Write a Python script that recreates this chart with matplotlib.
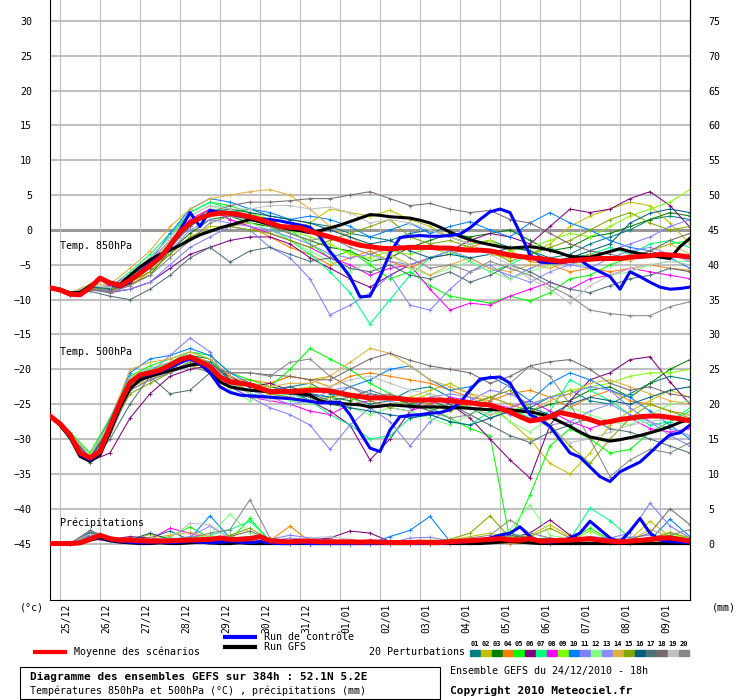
import matplotlib
matplotlib.use('Agg')
import matplotlib.pyplot as plt
from matplotlib.lines import Line2D
from matplotlib.patches import Rectangle
from matplotlib.transforms import ScaledTranslation
import numpy as np

W, H = 740, 700
MONO = 'DejaVu Sans Mono'
plt.rcParams['font.family'] = MONO

# time axes (hours after 24/12/2010 18h)
hours_6h = np.arange(0, 385, 6)
hours_12h = np.arange(0, 385, 12)
day_hours = [6 + 24 * i for i in range(16)]
day_labels = ['25/12', '26/12', '27/12', '28/12', '29/12', '30/12', '31/12', '01/01',
              '02/01', '03/01', '04/01', '05/01', '06/01', '07/01', '08/01', '09/01']

pert_colors = ['#008080', '#c0c000', '#008000', '#ff8000', '#00ff00', '#800080', '#00ff80',
               '#ff00ff', '#80ff00', '#0080ff', '#8080ff', '#80ff80', '#8c8cff', '#e0b040',
               '#80a800', '#006080', '#507078', '#786870', '#c0c0c0', '#888888']

# --- Temp 850 hPa (6h) ---
t850_mean = [-8.3, -8.6, -9.2, -9.3, -8.3, -6.9, -7.6, -8.0, -7.2, -6.2,
             -5.1, -4.0, -2.2, -0.3, 1.0, 1.7, 2.2, 2.4, 2.4, 2.2,
             1.9, 1.5, 1.0, 0.5, 0.4, 0.3, -0.2, -0.6, -1.0, -1.4,
             -1.8, -2.2, -2.4, -2.6, -2.7, -2.6, -2.5, -2.5, -2.5, -2.6,
             -2.6, -2.8, -2.9, -2.9, -3.0, -3.3, -3.6, -3.8, -4.0, -4.1,
             -4.3, -4.5, -4.4, -4.3, -4.2, -4.1, -4.1, -4.1, -3.9, -3.8,
             -3.7, -3.5, -3.6, -3.7, -3.9]
t850_ctrl = [-8.3, -8.7, -9.3, -9.4, -8.3, -7.0, -7.8, -8.2, -7.5, -6.0,
             -4.8, -3.8, -2.6, 0.0, 2.5, 0.5, 2.8, 2.5, 2.3, 2.0,
             1.8, 1.6, 1.5, 1.3, 1.0, 0.7, 0.4, -1.0, -3.1, -4.8,
             -6.7, -9.6, -9.5, -6.7, -3.3, -1.1, -0.9, -0.8, -0.9, -0.9,
             -0.8, -0.6, 0.3, 1.5, 2.6, 3.0, 2.5, -0.4, -3.6, -4.6,
             -4.7, -4.7, -4.5, -4.3, -5.3, -6.0, -6.7, -8.5, -6.0, -6.7,
             -7.5, -8.2, -8.5, -8.4, -8.2]
t850_gfs = [-8.3, -8.5, -9.0, -9.0, -8.0, -7.0, -7.5, -7.8, -6.5, -5.3,
            -4.3, -3.5, -2.9, -2.2, -1.4, -0.7, -0.2, 0.3, 0.7, 1.1,
            1.5, 1.2, 0.8, 0.4, 0.1, -0.1, -0.4, -0.1, 0.3, 0.7,
            1.2, 1.7, 2.2, 2.1, 1.9, 1.8, 1.7, 1.4, 1.0, 0.4,
            -0.3, -0.9, -1.4, -1.8, -2.1, -2.4, -2.6, -2.5, -2.4, -2.6,
            -2.9, -3.3, -3.8, -3.9, -3.9, -3.5, -3.1, -2.7, -3.1, -3.4,
            -3.6, -3.9, -4.1, -2.4, -1.2]

# --- Temp 850 hPa perturbations (12h) ---
t850_members = [
    [-8.3, -9.3, -8.0, -8.5, -7.0, -5.0, -2.5, 1.0, 3.0, 2.5, 3.0, 2.0, 1.5, 1.0, 0.5, -0.5, -1.0, -1.5, -0.5, 0.0, -1.0, -2.0, -1.5, -2.5, -3.0, -4.0, -3.5, -2.0, -1.0, 0.0, 1.5, 2.0, 1.5],
    [-8.3, -9.1, -8.2, -8.0, -7.5, -6.0, -3.5, -1.0, 0.5, 0.5, 1.0, 0.5, 0.0, 1.0, 3.0, 2.5, 2.0, 2.8, 1.5, 0.5, -1.0, -2.0, -3.5, -4.0, -3.5, -2.0, 0.5, 2.0, 3.0, 4.0, 3.5, 1.0, -2.0],
    [-8.3, -9.0, -8.4, -8.6, -7.8, -6.5, -3.0, -0.5, 1.5, 2.0, 1.0, 0.5, -0.5, -1.5, -2.5, -3.0, -4.5, -4.0, -2.5, -1.5, -0.5, -1.0, -0.5, 0.0, -1.5, -3.0, -2.5, -1.0, -0.5, 0.5, 1.5, 2.5, 2.0],
    [-8.3, -9.4, -8.0, -8.8, -8.0, -6.0, -2.0, 1.5, 3.0, 1.5, 0.5, -1.0, -2.5, -3.5, -5.0, -4.0, -3.0, -4.5, -5.5, -4.0, -3.5, -2.5, -1.5, -3.0, -4.5, -5.0, -6.0, -5.5, -6.0, -5.5, -5.0, -5.5, -5.8],
    [-8.3, -9.2, -8.1, -8.3, -6.5, -4.0, -1.0, 2.5, 4.0, 3.5, 2.5, 1.0, 0.0, -2.0, -4.0, -3.0, -5.0, -7.0, -6.0, -8.0, -9.5, -10.0, -10.5, -9.5, -10.2, -9.0, -7.0, -6.5, -5.0, -4.0, -3.0, -2.0, -1.5],
    [-8.3, -9.3, -8.5, -9.0, -8.5, -7.5, -5.5, -3.5, -2.5, -1.5, -1.0, -1.0, -2.0, -4.0, -5.5, -7.0, -8.2, -6.5, -5.0, -4.0, -3.0, -1.5, -0.5, -1.0, -2.0, 0.5, 3.0, 2.5, 3.0, 4.5, 5.5, 3.5, 0.4],
    [-8.3, -9.2, -8.0, -8.2, -6.0, -3.5, -0.5, 2.5, 4.0, 3.0, 1.5, 0.5, -1.5, -3.5, -6.0, -9.0, -13.5, -10.0, -6.5, -4.0, -3.0, -4.5, -6.0, -5.0, -3.5, -2.5, -4.0, -3.5, -2.5, -3.5, -2.0, -1.5, -2.5],
    [-8.3, -9.1, -8.3, -8.0, -6.5, -4.5, -1.5, 1.5, 3.0, 1.5, 0.5, -0.5, -1.5, -2.5, -4.0, -5.0, -6.5, -5.5, -5.0, -8.5, -11.5, -10.5, -10.8, -9.5, -8.5, -7.5, -8.5, -7.0, -6.5, -5.5, -6.0, -6.5, -7.0],
    [-8.3, -9.2, -8.2, -8.4, -7.0, -5.0, -2.0, 1.0, 2.5, 3.0, 2.5, 1.5, 0.0, -1.0, -2.0, -3.5, -4.0, -3.0, -3.5, -2.5, -3.5, -2.0, -1.5, -3.0, -2.5, -1.5, -0.5, -1.0, 0.5, 2.0, 3.0, 4.0, 5.8],
    [-8.3, -9.3, -8.1, -8.5, -6.8, -4.5, -0.5, 3.0, 4.5, 4.0, 3.0, 2.5, 1.5, 2.0, 1.5, 0.5, -1.0, 0.0, 1.0, -0.5, 0.5, 1.2, 0.0, -1.0, 1.0, 2.5, 1.0, 0.0, -1.5, -2.5, -3.0, -4.0, -5.5],
    [-8.3, -9.2, -8.6, -8.9, -8.5, -7.5, -5.0, -2.5, -1.0, 0.5, 0.0, -2.5, -4.0, -7.0, -12.2, -10.8, -9.0, -6.5, -10.8, -11.5, -8.5, -6.0, -5.0, -7.0, -5.5, -4.5, -5.0, -4.0, -3.0, -2.0, -1.0, 0.5, 1.5],
    [-8.3, -9.0, -8.2, -8.3, -6.8, -4.8, -1.5, 2.0, 3.5, 2.5, 1.0, 0.0, -1.5, -3.0, -4.5, -6.0, -4.5, -3.5, -5.5, -6.5, -5.5, -4.5, -6.0, -7.0, -6.0, -5.0, -4.5, -5.5, -6.5, -6.0, -5.0, -4.5, -4.5],
    [-8.3, -9.3, -8.4, -8.6, -7.2, -5.5, -3.0, 0.0, 1.5, 1.0, 0.5, 0.0, -1.0, -2.0, -3.5, -4.0, -3.5, -4.5, -5.0, -4.0, -3.0, -4.0, -5.5, -6.5, -7.5, -6.0, -5.0, -5.5, -4.0, -3.0, -2.5, -3.5, -4.5],
    [-8.3, -9.0, -7.8, -7.8, -5.5, -3.0, 0.5, 3.0, 4.5, 5.0, 5.5, 5.8, 5.0, 3.0, 0.5, -1.0, -2.5, -3.5, -5.0, -6.5, -5.0, -4.0, -5.5, -6.0, -5.0, -5.5, -4.5, -3.5, -4.0, -4.5, -3.0, -2.0, -3.5],
    [-8.3, -9.1, -8.3, -8.5, -7.5, -6.0, -3.5, -1.0, 0.0, 0.5, 0.0, -0.5, -1.5, -2.5, -1.5, -0.5, 0.5, 1.5, -1.0, -2.0, -1.5, -2.5, -3.0, -4.5, -3.5, -2.5, -1.5, 0.0, 1.5, 2.5, 1.0, 0.0, 0.5],
    [-8.3, -9.2, -8.2, -8.4, -7.0, -5.5, -2.5, 0.5, 2.5, 3.0, 2.5, 2.0, 1.5, 1.0, 0.0, -1.0, -2.0, -1.5, -3.0, -4.0, -3.5, -4.0, -3.5, -2.5, -3.0, -4.5, -4.0, -3.0, -2.0, 1.0, 2.4, 3.0, 2.5],
    [-8.3, -9.4, -8.8, -9.5, -10.0, -8.5, -6.5, -4.0, -2.5, -4.6, -3.0, -2.5, -3.5, -4.5, -4.0, -5.5, -6.0, -5.0, -6.5, -7.0, -6.0, -7.5, -6.5, -5.0, -6.0, -7.5, -8.5, -9.0, -8.0, -7.0, -6.5, -5.5, -6.0],
    [-8.3, -9.2, -8.5, -8.8, -7.5, -5.5, -2.5, 0.5, 2.5, 3.5, 4.0, 4.0, 4.2, 4.5, 4.5, 5.0, 5.5, 4.5, 3.5, 3.8, 3.0, 2.5, 2.8, 1.5, 1.0, -0.5, -2.0, -3.0, -3.5, -4.0, -3.0, -1.5, -0.5],
    [-8.3, -9.1, -8.0, -8.2, -6.5, -4.0, -1.0, 2.0, 3.5, 3.0, 3.0, 3.5, 3.5, 3.0, 3.3, 2.5, 1.0, 1.5, 1.0, 0.0, -1.0, -2.0, -3.5, -5.0, -7.0, -8.5, -10.5, -8.0, -6.5, -5.5, -5.0, -4.5, -5.0],
    [-8.3, -9.3, -8.6, -9.0, -8.0, -6.5, -4.0, -1.5, 1.0, 2.0, 1.5, 0.5, -0.5, -1.5, -1.0, -2.5, -3.5, -2.5, -4.0, -5.5, -5.0, -6.0, -4.5, -5.5, -6.5, -8.0, -9.5, -11.5, -12.0, -12.3, -12.3, -11.0, -10.3],
]

# --- Temp 500 hPa (6h) ---
t500_mean = [-26.7, -27.8, -29.4, -32.0, -32.7, -31.8, -28.2, -24.8, -21.9, -20.8,
             -20.5, -20.1, -19.4, -18.6, -18.2, -18.9, -19.6, -21.1, -21.8, -22.0,
             -22.2, -22.7, -23.2, -23.2, -23.2, -23.1, -23.0, -23.0, -23.1, -23.4,
             -23.7, -23.9, -24.1, -24.1, -24.1, -24.2, -24.4, -24.4, -24.4, -24.4,
             -24.5, -24.7, -24.8, -25.0, -25.1, -25.6, -26.1, -26.8, -27.4, -27.2,
             -26.8, -26.2, -26.5, -26.8, -27.2, -27.7, -27.5, -27.2, -27.0, -26.8,
             -26.7, -26.7, -26.9, -27.1, -27.4]
t500_ctrl = [-26.7, -27.9, -29.6, -32.2, -33.0, -32.0, -28.5, -25.0, -22.0, -21.0,
             -20.7, -20.3, -19.7, -19.0, -18.5, -19.2, -20.5, -22.5, -23.3, -23.7,
             -23.8, -23.9, -24.0, -24.1, -24.2, -24.4, -24.6, -24.8, -24.8, -24.7,
             -26.5, -29.0, -31.3, -31.8, -28.7, -26.8, -26.6, -26.5, -26.3, -26.2,
             -25.8, -24.8, -23.0, -21.4, -21.2, -21.1, -22.0, -24.4, -26.5, -27.2,
             -28.2, -30.1, -32.0, -32.6, -34.0, -35.4, -36.1, -34.7, -34.0, -33.3,
             -32.0, -30.6, -29.4, -29.1, -28.0]
t500_gfs = [-26.7, -28.0, -29.8, -32.5, -33.2, -32.3, -29.0, -25.5, -22.8, -21.5,
            -21.0, -20.6, -20.2, -19.8, -19.4, -19.2, -20.5, -21.8, -22.5, -22.8,
            -23.0, -23.1, -23.2, -23.2, -23.3, -23.5, -23.7, -24.5, -24.8, -24.9,
            -25.0, -25.1, -25.4, -25.3, -25.1, -25.2, -25.3, -25.4, -25.4, -25.4,
            -25.5, -25.5, -25.6, -25.7, -25.8, -25.8, -25.8, -26.0, -26.1, -26.4,
            -26.8, -27.5, -28.2, -29.0, -29.7, -30.0, -30.3, -30.1, -29.8, -29.5,
            -29.1, -28.7, -28.2, -27.6, -27.2]

# --- Temp 500 hPa perturbations (12h) ---
t500_members = [
    [-26.7, -29.5, -32.6, -28.5, -22.0, -20.5, -19.5, -18.0, -19.0, -21.0, -22.5, -23.0, -22.5, -22.0, -23.5, -24.0, -25.0, -24.5, -23.0, -22.5, -24.0, -25.5, -27.0, -26.0, -25.5, -24.0, -23.0, -24.5, -25.0, -23.5, -22.0, -21.0, -21.5],
    [-26.7, -29.3, -32.8, -28.0, -22.5, -21.5, -20.0, -19.5, -20.0, -22.0, -23.0, -22.0, -21.0, -21.5, -21.0, -22.5, -23.5, -24.5, -24.0, -23.0, -22.0, -23.5, -25.0, -27.5, -30.0, -33.5, -35.0, -32.0, -28.0, -26.0, -24.5, -23.0, -24.0],
    [-26.7, -29.4, -32.5, -27.5, -21.5, -20.0, -19.0, -18.0, -18.5, -21.5, -22.0, -22.5, -23.0, -23.5, -24.0, -24.5, -23.5, -24.0, -25.0, -24.5, -25.5, -25.0, -24.0, -25.0, -26.0, -25.0, -24.5, -23.0, -22.5, -24.0, -22.0, -20.0, -18.6],
    [-26.7, -29.6, -33.0, -28.8, -22.0, -20.0, -19.5, -18.0, -19.0, -21.5, -21.5, -22.0, -21.0, -21.5, -22.5, -21.0, -20.5, -21.0, -21.5, -22.0, -23.0, -24.0, -24.5, -23.5, -23.0, -24.0, -25.5, -24.0, -23.0, -24.5, -25.0, -26.0, -26.5],
    [-26.7, -29.0, -32.0, -27.0, -21.0, -19.5, -18.5, -17.5, -18.0, -20.5, -21.5, -22.5, -20.0, -17.0, -18.5, -20.0, -22.0, -23.5, -25.0, -25.5, -27.0, -28.5, -29.5, -44.5, -38.0, -31.0, -28.5, -30.0, -32.0, -31.5, -29.0, -27.5, -26.0],
    [-26.7, -29.8, -33.2, -32.0, -27.0, -23.5, -21.0, -20.0, -19.5, -21.0, -22.5, -22.0, -23.0, -24.5, -26.0, -28.0, -33.0, -30.0, -26.0, -24.0, -25.0, -27.0, -30.0, -33.0, -35.6, -28.0, -24.5, -21.5, -20.5, -18.6, -18.2, -21.8, -25.0],
    [-26.7, -29.4, -32.7, -28.0, -21.5, -20.0, -19.0, -17.5, -18.5, -22.0, -23.5, -24.0, -23.5, -24.5, -26.5, -28.0, -30.0, -29.5, -27.0, -26.5, -27.5, -28.0, -26.0, -25.5, -27.0, -26.0, -21.5, -23.0, -24.5, -26.5, -28.0, -27.5, -25.5],
    [-26.7, -29.5, -32.8, -28.4, -22.5, -21.0, -20.0, -18.5, -19.5, -22.5, -24.0, -24.5, -25.0, -26.0, -26.5, -25.0, -24.5, -25.5, -26.0, -25.0, -24.0, -24.5, -25.0, -25.5, -24.5, -26.0, -27.5, -28.5, -27.5, -27.0, -28.5, -29.0, -28.5],
    [-26.7, -29.2, -32.3, -27.8, -21.8, -20.2, -19.2, -18.5, -19.0, -21.5, -22.0, -23.5, -23.0, -22.5, -23.0, -24.0, -25.5, -25.0, -24.5, -23.5, -24.5, -25.5, -26.5, -26.0, -25.0, -24.0, -23.0, -22.5, -22.0, -21.0, -20.5, -20.5, -20.0],
    [-26.7, -29.4, -32.5, -27.2, -20.5, -18.5, -18.0, -17.0, -18.0, -20.5, -22.0, -23.0, -22.5, -23.5, -24.0, -22.5, -21.5, -20.0, -19.5, -21.5, -23.0, -22.5, -21.0, -22.5, -24.5, -22.0, -20.5, -21.5, -23.0, -24.0, -26.0, -28.0, -30.0],
    [-26.7, -29.3, -32.6, -28.5, -22.0, -20.5, -18.0, -15.5, -17.5, -22.5, -24.0, -25.5, -26.5, -28.0, -31.5, -28.0, -25.5, -27.5, -31.0, -27.5, -25.5, -24.5, -23.0, -23.5, -25.0, -24.0, -23.5, -22.5, -23.0, -25.5, -27.5, -29.5, -31.0],
    [-26.7, -29.5, -32.9, -28.3, -22.3, -20.8, -19.8, -18.2, -19.8, -23.0, -24.5, -23.5, -24.5, -25.0, -24.0, -25.5, -26.5, -25.5, -26.0, -27.0, -28.0, -26.5, -25.5, -27.5, -29.0, -27.0, -25.5, -26.5, -27.5, -28.0, -26.5, -25.0, -24.5],
    [-26.7, -29.6, -33.0, -29.0, -23.0, -21.5, -20.5, -18.8, -20.0, -22.0, -23.0, -24.0, -25.0, -24.5, -23.0, -22.5, -23.5, -24.5, -25.5, -24.0, -23.5, -24.0, -25.5, -26.5, -27.0, -28.0, -27.5, -26.0, -25.0, -26.5, -27.5, -28.5, -29.5],
    [-26.7, -29.2, -32.4, -27.5, -20.0, -19.0, -18.5, -17.5, -18.5, -21.0, -22.0, -22.5, -22.0, -22.0, -21.0, -19.0, -17.0, -17.7, -19.5, -21.5, -22.5, -23.5, -24.0, -25.0, -26.0, -24.5, -23.5, -22.0, -21.5, -22.5, -23.5, -24.5, -25.0],
    [-26.7, -29.4, -32.7, -28.7, -23.5, -22.0, -20.5, -19.0, -20.0, -22.0, -23.0, -23.5, -24.0, -24.5, -24.0, -23.5, -24.5, -25.5, -24.5, -25.0, -26.0, -25.0, -24.0, -23.0, -25.5, -28.0, -31.0, -33.5, -30.0, -27.0, -25.0, -26.0, -27.0],
    [-26.7, -29.5, -32.8, -28.6, -22.5, -21.0, -20.0, -18.5, -19.0, -21.5, -22.5, -23.0, -23.5, -24.0, -25.0, -25.5, -26.0, -26.5, -27.0, -26.5, -27.5, -28.0, -27.0, -26.0, -25.5, -26.5, -25.0, -24.0, -24.5, -25.0, -24.0, -23.0, -22.5],
    [-26.7, -29.8, -33.5, -30.0, -25.0, -21.0, -23.5, -23.0, -20.5, -21.5, -22.0, -23.0, -22.5, -23.5, -24.5, -24.0, -23.0, -24.0, -25.0, -26.0, -25.0, -26.5, -28.0, -29.5, -30.5, -29.0, -28.0, -27.0, -28.5, -29.0, -30.0, -31.0, -32.0],
    [-26.7, -29.4, -32.6, -28.2, -22.0, -20.5, -19.5, -18.5, -19.5, -20.5, -20.5, -20.8, -21.0, -21.5, -21.5, -20.0, -18.5, -17.7, -18.7, -19.5, -20.0, -20.5, -22.0, -21.0, -19.5, -18.9, -18.6, -20.0, -22.0, -23.0, -22.5, -23.5, -24.0],
    [-26.7, -29.2, -32.4, -27.6, -21.2, -19.8, -19.0, -18.0, -19.2, -21.8, -23.5, -24.5, -24.0, -23.0, -22.5, -21.5, -21.0, -22.0, -23.0, -23.5, -24.5, -25.5, -26.5, -25.5, -26.5, -28.5, -30.5, -30.0, -29.0, -28.0, -27.5, -27.0, -26.5],
    [-26.7, -29.6, -33.0, -29.5, -23.0, -21.5, -20.5, -19.5, -20.5, -20.5, -20.5, -21.0, -19.0, -18.5, -21.0, -22.5, -24.0, -23.5, -24.5, -26.0, -27.0, -26.5, -24.5, -22.0, -19.5, -21.0, -25.0, -30.0, -35.4, -33.0, -31.5, -32.0, -30.5],
]

# --- Precipitation in mm (6h), drawn on the left scale at -45 + mm ---
rain_mean = [0, 0, 0, 0.1, 0.6, 1.2, 0.7, 0.5, 0.5, 0.4,
             0.35, 0.35, 0.4, 0.45, 0.5, 0.55, 0.6, 0.8, 0.6, 0.6,
             0.7, 1.0, 0.4, 0.3, 0.25, 0.35, 0.35, 0.25, 0.25, 0.25,
             0.25, 0.2, 0.25, 0.2, 0.15, 0.15, 0.15, 0.2, 0.15, 0.15,
             0.25, 0.35, 0.4, 0.5, 0.6, 0.7, 0.5, 0.5, 0.7, 0.35,
             0.4, 0.45, 0.5, 0.6, 0.7, 0.5, 0.35, 0.25, 0.35, 0.45,
             0.6, 0.8, 0.8, 0.6, 0.35]
rain_ctrl = [0, 0, 0, 0.1, 0.5, 1.0, 0.5, 0.3, 0.2, 0.1,
             0.1, 0.2, 0.1, 0.2, 0.3, 0.2, 0.1, 0.2, 0.3, 0.2,
             0.1, 0.3, 0.1, 0, 0, 0.1, 0, 0, 0, 0,
             0, 0, 0, 0, 0, 0, 0, 0, 0, 0,
             0.1, 0.2, 0.3, 0.5, 0.8, 1.2, 1.5, 2.4, 1.0, 0.3,
             0.2, 0.3, 0.8, 1.5, 3.2, 2.0, 0.8, 0.2, 1.8, 3.6,
             1.5, 0.5, 0.3, 0.2, 0.1]
rain_gfs = [0, 0, 0, 0.1, 0.5, 0.8, 0.4, 0.2, 0.1, 0,
            0, 0.1, 0, 0, 0.1, 0.2, 0.1, 0, 0, 0.1,
            0, 0, 0, 0, 0, 0, 0, 0, 0, 0,
            0, 0, 0, 0, 0, 0, 0, 0, 0, 0,
            0, 0, 0, 0, 0.1, 0.2, 0.3, 0.2, 0.1, 0,
            0, 0, 0, 0, 0, 0, 0, 0, 0, 0,
            0, 0, 0, 0, 0]
rain_members = [
    [0, 0, 1.5, 0.6, 0.3, 0.8, 1.8, 0.5, 0.3, 0.2, 0.4, 0.2, 0.1, 0, 0, 0.1, 0, 0, 0.2, 0, 0, 0.1, 0.3, 0.5, 0.2, 0, 0.2, 0.4, 0.1, 0, 0.3, 0.5, 0.2],
    [0, 0, 1.0, 0.5, 0.4, 1.3, 0.6, 0.4, 0.5, 0.8, 0.3, 0.2, 0, 0, 0, 0.2, 0.1, 0, 0.3, 0.5, 0.5, 1.0, 1.5, 0.8, 1.2, 2.7, 1.0, 0.5, 0.3, 0.6, 3.2, 1.0, 0.5],
    [0, 0, 0.9, 0.4, 0.2, 0.3, 0.5, 0.6, 0.4, 0.8, 0.5, 0.2, 0, 0.1, 0, 0, 0, 0.1, 0, 0, 0.2, 0.5, 0.3, 0.4, 0.6, 0.8, 0.3, 0.2, 0.1, 0.3, 0.5, 0.8, 0.4],
    [0, 0, 0.8, 0.5, 0.3, 0.2, 0.4, 0.5, 0.8, 0.6, 0.3, 0.4, 2.5, 0.3, 0.1, 0, 0, 0, 0, 0.1, 0, 0.1, 0.2, 0, 0.1, 0.3, 0.2, 0.4, 0.2, 0.1, 0.3, 0.4, 0.2],
    [0, 0, 0.9, 0.4, 0.2, 0.5, 1.0, 2.4, 0.8, 0.5, 3.6, 0.3, 0.2, 0, 0.1, 0, 0, 0, 0.1, 0, 0.2, 0.3, 0.5, 0.6, 0.4, 0.3, 0.5, 2.2, 0.6, 0.3, 0.6, 1.2, 0.5],
    [0, 0, 1.1, 0.6, 1.0, 0.8, 0.6, 0.4, 0.5, 0.4, 0.3, 0.2, 0.3, 0.5, 0.8, 1.8, 1.5, 0.3, 0, 0, 0.1, 0.4, 0.6, 0.8, 1.5, 3.4, 1.2, 0.6, 0.5, 0.4, 0.8, 0.9, 0.6],
    [0, 0, 0.8, 0.4, 0.2, 0.3, 0.6, 0.9, 1.2, 2.0, 3.2, 0.5, 0.2, 0, 0, 0, 0.1, 0, 0, 0.1, 0.3, 0.4, 0.5, 1.5, 0.8, 0.5, 0.6, 5.1, 3.3, 0.8, 0.4, 0.6, 0.3],
    [0, 0, 0.7, 0.3, 0.2, 0.6, 2.2, 1.5, 0.6, 0.4, 0.3, 0.2, 0.1, 0, 0, 0.1, 0.5, 0, 0, 0, 0.1, 0.2, 0.3, 0.4, 0.3, 0.2, 0.1, 0.3, 0.4, 0.2, 0.5, 0.3, 0.2],
    [0, 0, 0.9, 0.5, 0.3, 0.4, 0.5, 0.8, 0.6, 0.7, 0.5, 0.3, 0.2, 0.1, 0, 0, 0, 0.1, 0.2, 0.1, 0.3, 0.5, 0.8, 1.0, 0.6, 0.5, 0.4, 1.8, 0.5, 0.3, 0.8, 1.5, 0.6],
    [0, 0, 1.0, 0.5, 0.3, 0.4, 0.5, 0.7, 4.0, 0.8, 0.4, 0.2, 0.1, 0, 0, 0, 0, 1.0, 1.9, 3.9, 0.3, 0.1, 0.2, 0.4, 0.5, 0.2, 0.3, 0.6, 0.4, 0.2, 0.5, 3.5, 1.0],
    [0, 0, 0.8, 0.4, 0.3, 0.5, 0.4, 0.6, 0.5, 0.4, 0.8, 0.6, 1.2, 0.8, 0.5, 0.3, 0.2, 0.1, 0.8, 0.9, 0.4, 0.3, 0.5, 0.8, 0.6, 0.4, 0.6, 1.0, 0.8, 1.5, 5.8, 2.5, 0.8],
    [0, 0, 0.9, 0.4, 0.2, 0.3, 0.5, 0.8, 1.2, 4.2, 1.5, 0.4, 0.2, 0.1, 0, 0, 0, 0, 0.1, 0, 0.2, 0.4, 0.8, 2.0, 5.6, 1.2, 0.6, 0.8, 0.5, 0.3, 0.4, 0.6, 0.3],
    [0, 0, 1.2, 0.6, 0.4, 0.5, 0.6, 1.0, 2.5, 0.8, 0.5, 0.4, 0.8, 0.5, 0.3, 0.2, 0.1, 0, 0.2, 0.1, 0.3, 0.5, 0.8, 0.6, 0.4, 0.3, 0.5, 0.8, 0.6, 0.9, 1.2, 0.8, 0.5],
    [0, 0, 0.8, 0.5, 0.6, 0.8, 1.2, 1.6, 1.0, 0.5, 0.3, 0.2, 0.1, 0, 0, 0, 0, 0, 0, 0.1, 0, 0.1, 0.2, 0.3, 0.5, 0.4, 0.3, 0.2, 0.3, 0.5, 2.0, 1.0, 0.4],
    [0, 0, 0.9, 0.5, 0.3, 0.4, 0.5, 0.6, 0.8, 1.2, 2.2, 0.6, 0.3, 0.1, 0, 0, 0, 0.1, 0.2, 0.3, 0.6, 1.5, 4.0, 0.8, 1.0, 2.2, 0.8, 0.5, 0.3, 0.4, 0.6, 1.6, 0.8],
    [0, 0, 1.6, 0.8, 0.5, 1.5, 0.6, 0.8, 0.4, 0.6, 0.3, 0.2, 0.1, 0, 0, 0, 0, 0, 0, 0, 0.1, 0.2, 0.3, 0.2, 0.4, 0.3, 0.5, 0.6, 0.3, 0.2, 0.4, 0.5, 0.3],
    [0, 0, 1.9, 0.7, 0.4, 0.3, 0.5, 0.6, 0.5, 0.8, 1.0, 0.5, 0.3, 0.2, 0.1, 0, 0, 0.1, 0, 0, 0.2, 0.3, 0.5, 1.2, 0.8, 0.4, 0.3, 0.6, 0.5, 0.3, 0.5, 0.8, 0.4],
    [0, 0, 1.3, 0.6, 0.8, 0.6, 0.5, 0.4, 0.8, 1.0, 1.8, 0.6, 0.3, 0.2, 0.1, 0.2, 0.1, 0, 0, 0, 0.2, 0.4, 0.5, 1.5, 0.6, 0.3, 0.4, 0.5, 0.4, 0.6, 1.5, 5.0, 2.7],
    [0, 0, 1.4, 0.7, 0.5, 0.6, 0.8, 2.9, 2.7, 0.8, 0.5, 0.4, 0.3, 0.8, 1.0, 0.6, 0.2, 0.3, 0.5, 0.2, 0.1, 0.2, 0.3, 0.4, 0.2, 0.3, 0.2, 0.4, 0.3, 0.5, 0.8, 0.6, 0.4],
    [0, 0, 1.8, 0.8, 0.5, 0.4, 0.6, 0.8, 1.5, 2.0, 6.3, 0.8, 0.4, 0.2, 0.1, 0, 0, 0, 0.1, 0.2, 0.3, 0.8, 1.2, 3.4, 1.5, 0.8, 0.5, 0.6, 0.4, 0.3, 0.5, 1.2, 2.0],
]
RAIN_BASE = -45

fig = plt.figure(figsize=(W / 100, H / 100), dpi=100)
ax = fig.add_axes([50 / W, 100 / H, 640 / W, 600 / H])
ax.set_xlim(0, 384)
ax.set_ylim(-53.1, 33.0)

# grid
for v in range(-45, 31, 5):
    if v == 0:
        ax.axhline(v, color='#999999', lw=2.2, zorder=1)
    else:
        ax.axhline(v, color='#c0c0c0', lw=1.5, zorder=1)
for h in day_hours:
    ax.axvline(h, color='#c0c0c0', lw=0.8, zorder=1)

# perturbations
for i, c in enumerate(pert_colors):
    for series, base in ((t850_members[i], 0), (t500_members[i], 0), (rain_members[i], RAIN_BASE)):
        ax.plot(hours_12h, np.array(series) + base, color=c, lw=0.75, marker='+',
                ms=3, mew=0.6, zorder=2)

# GFS, control, mean
for series, base in ((t850_gfs, 0), (t500_gfs, 0), (rain_gfs, RAIN_BASE)):
    ax.plot(hours_6h, np.array(series) + base, color='black', lw=2.2, zorder=3,
            solid_joinstyle='round')
for series, base in ((t850_ctrl, 0), (t500_ctrl, 0), (rain_ctrl, RAIN_BASE)):
    ax.plot(hours_6h, np.array(series) + base, color='#0000ff', lw=2.2, zorder=4,
            solid_joinstyle='round')
for series, base in ((t850_mean, 0), (t500_mean, 0), (rain_mean, RAIN_BASE)):
    ax.plot(hours_6h, np.array(series) + base, color='#ff0000', lw=3.6, zorder=5,
            solid_joinstyle='round', solid_capstyle='round')

# axes frame and ticks
ax.spines['top'].set_visible(False)
for s in ('left', 'right', 'bottom'):
    ax.spines[s].set_color('black')
    ax.spines[s].set_linewidth(0.8)
ax.set_yticks(range(-45, 31, 5))
ax.tick_params(axis='y', length=0, pad=13, labelsize=7.2)
ax.set_xticks(day_hours)
ax.set_xticklabels(day_labels, rotation=90, fontsize=7)
ax.tick_params(axis='x', length=0, pad=2.5)
for lbl in ax.get_xticklabels():
    lbl.set_va('top')
    lbl.set_transform(lbl.get_transform() + ScaledTranslation(6 / 100, 0, fig.dpi_scale_trans))

ax2 = ax.twinx()
ax2.set_ylim(ax.get_ylim()[0] + 45, ax.get_ylim()[1] + 45)
ax2.set_yticks(range(0, 76, 5))
ax2.tick_params(axis='y', length=0, pad=13, labelsize=7.2)
for s in ('top', 'left', 'bottom'):
    ax2.spines[s].set_visible(False)
ax2.spines['right'].set_linewidth(0.8)


def fp(x, y):
    return x / W, 1 - y / H


# in-plot labels
fig.text(*fp(60, 246), 'Temp. 850hPa', fontsize=7.2, va='center')
fig.text(*fp(60, 352), 'Temp. 500hPa', fontsize=7.2, va='center')
fig.text(*fp(60, 523), 'Précipitations', fontsize=7.2, va='center')
fig.text(*fp(20, 607), '(°c)', fontsize=7.2, va='center')
fig.text(*fp(712, 607), '(mm)', fontsize=7.2, va='center')

# legend
fig.add_artist(Line2D([35 / W, 65 / W], [1 - 652 / H] * 2, color='#ff0000', lw=3))
fig.text(*fp(74, 652), 'Moyenne des scénarios', fontsize=7.2, va='center')
fig.add_artist(Line2D([225 / W, 255 / W], [1 - 637 / H] * 2, color='#0000ff', lw=3))
fig.add_artist(Line2D([225 / W, 255 / W], [1 - 647 / H] * 2, color='black', lw=3))
fig.text(*fp(264, 637), 'Run de contrôle', fontsize=7.2, va='center')
fig.text(*fp(264, 647), 'Run GFS', fontsize=7.2, va='center')
fig.text(*fp(369, 652), '20 Perturbations', fontsize=7.2, va='center')
for i, c in enumerate(pert_colors):
    x0 = 470 + 11 * i
    fig.add_artist(Rectangle((x0 / W, 1 - 656 / H), 10 / W, 6 / H, color=c,
                             transform=fig.transFigure))
    fig.text(*fp(x0 + 5, 644), '%02d' % (i + 1), fontsize=5, fontweight='bold',
             ha='center', va='center')

# bottom captions
fig.add_artist(Rectangle((20 / W, 1 - 699 / H), 420 / W, 32 / H, fill=False, ec='black',
                         lw=0.8, transform=fig.transFigure))
fig.text(*fp(30, 677), 'Diagramme des ensembles GEFS sur 384h : 52.1N 5.2E',
         fontsize=8, fontweight='bold', va='center')
fig.text(*fp(30, 691), 'Températures 850hPa et 500hPa (°C) , précipitations (mm)',
         fontsize=7.2, va='center')
fig.text(*fp(450, 671), 'Ensemble GEFS du 24/12/2010 - 18h', fontsize=7.2, va='center')
fig.text(*fp(450, 691), 'Copyright 2010 Meteociel.fr', fontsize=8, fontweight='bold',
         va='center')

fig.savefig('out.png', dpi=100)
